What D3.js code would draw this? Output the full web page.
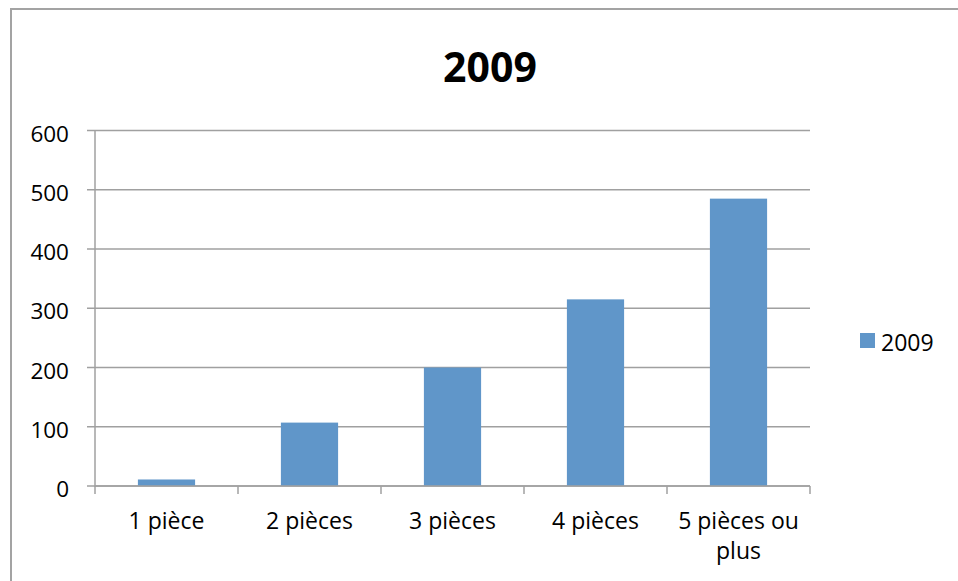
<!DOCTYPE html>
<html><head><meta charset="utf-8">
<script src="https://cdn.jsdelivr.net/npm/d3@7"></script>
<style>body{margin:0;background:#fff;}svg{display:block;font-family:"Open Sans", Lato, sans-serif;}</style>
</head><body>
<script>
const categories = ["1 pièce", "2 pièces", "3 pièces", "4 pièces", "5 pièces ou plus"];
const values2009 = [11, 107, 200, 315, 485];
const yTicks = [0, 100, 200, 300, 400, 500, 600];
const seriesName = "2009";
const title = "2009";

const W = 958, H = 581;
const svg = d3.select("body").append("svg").attr("width", W).attr("height", H);
svg.append("rect").attr("x", 11).attr("y", 9).attr("width", W + 10).attr("height", H + 10)
  .attr("fill", "#fff").attr("stroke", "#a3a3a3").attr("stroke-width", 2);

const m = {left: 95, right: 810, top: 130.5, bottom: 486};
const x = d3.scaleBand().domain(categories).range([m.left, m.right]).paddingInner(0.6).paddingOuter(0.3);
const y = d3.scaleLinear().domain([0, 600]).range([m.bottom, m.top]);

// gridlines
svg.append("g").selectAll("line").data(yTicks).join("line")
  .attr("x1", m.left - 8).attr("x2", m.right)
  .attr("y1", d => y(d)).attr("y2", d => y(d))
  .attr("stroke", "#a0a0a0").attr("stroke-width", 1.5);

// bars
svg.append("g").selectAll("rect").data(values2009).join("rect")
  .attr("x", (d, i) => x(categories[i]))
  .attr("width", x.bandwidth())
  .attr("y", d => y(d))
  .attr("height", d => y(0) - y(d))
  .attr("fill", "#6096c9");

// y axis line
svg.append("line").attr("x1", m.left).attr("x2", m.left).attr("y1", m.top).attr("y2", m.bottom + 1)
  .attr("stroke", "#a0a0a0").attr("stroke-width", 1.5);
// x axis line
svg.append("line").attr("x1", m.left).attr("x2", m.right).attr("y1", m.bottom).attr("y2", m.bottom)
  .attr("stroke", "#a0a0a0").attr("stroke-width", 1.5);
// x ticks at band boundaries
const bounds = d3.range(categories.length + 1).map(i => m.left + i * (m.right - m.left) / categories.length);
svg.append("g").selectAll("line").data(bounds).join("line")
  .attr("x1", d => d).attr("x2", d => d).attr("y1", m.bottom).attr("y2", m.bottom + 8)
  .attr("stroke", "#a0a0a0").attr("stroke-width", 1.5);

// y labels
svg.append("g").selectAll("text").data(yTicks).join("text")
  .attr("x", 69).attr("y", d => y(d) + 11)
  .attr("text-anchor", "end").attr("font-size", 22.5).attr("fill", "#000").text(d => d);

// x labels
const xl = svg.append("g");
categories.forEach((c, i) => {
  const cx = m.left + (i + 0.5) * (m.right - m.left) / categories.length;
  const lines = c === "5 pièces ou plus" ? ["5 pièces ou", "plus"] : [c];
  lines.forEach((t, j) => {
    xl.append("text").attr("x", cx).attr("y", 529 + j * 30)
      .attr("text-anchor", "middle").attr("font-size", 23).attr("fill", "#000").text(t);
  });
});

// title
svg.append("text").attr("x", 490).attr("y", 82).attr("text-anchor", "middle")
  .attr("font-size", 41).attr("font-weight", "bold").attr("fill", "#000").text(title);

// legend
svg.append("rect").attr("x", 860).attr("y", 333).attr("width", 15).attr("height", 15).attr("fill", "#6096c9");
svg.append("text").attr("x", 881).attr("y", 351).attr("font-size", 23).attr("fill", "#000").text(seriesName);
</script>
</body></html>
